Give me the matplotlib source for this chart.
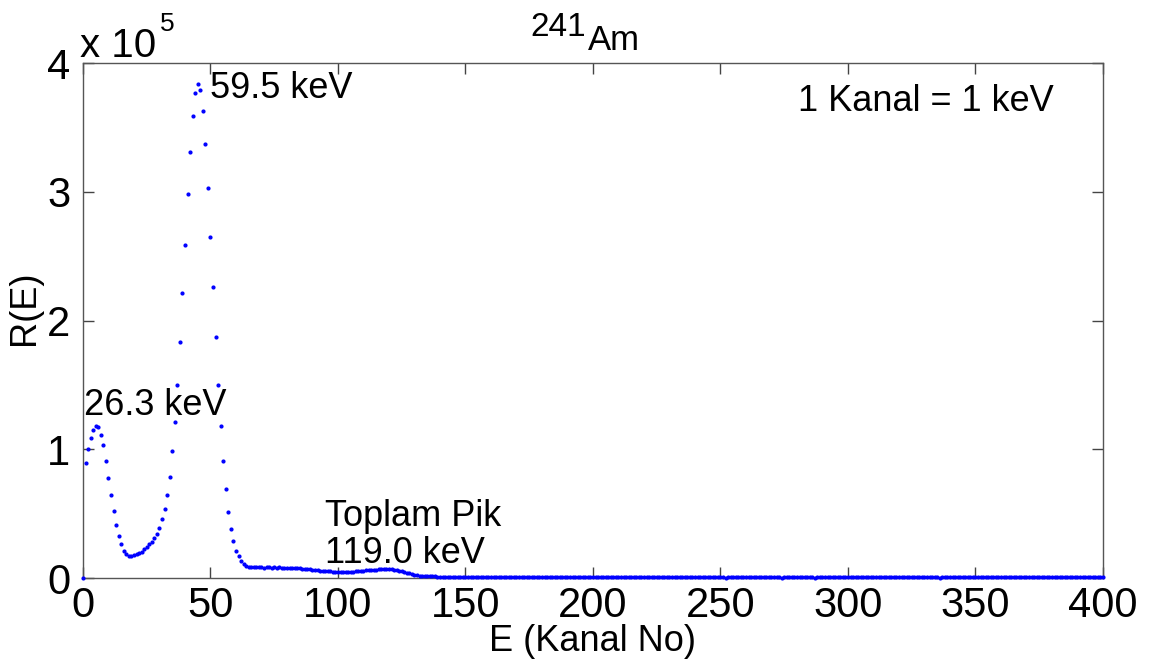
import numpy as np
import matplotlib
matplotlib.use('Agg')
import matplotlib.pyplot as plt

plt.rcParams['font.family'] = ['Liberation Sans', 'DejaVu Sans']

# ── Spektrum (kanal başına sayım) ────────────────────────────────────────────

# kanal 0-64: iki ana pik
counts_peaks = [
    0, 89000, 100000, 109000, 115000, 118000, 117000, 111000, 103000, 91000,
    78000, 64500, 52000, 41000, 32400, 26200, 20700, 18400, 17300, 17100,
    17600, 18300, 19100, 20400, 22200, 24300, 26400, 28200, 31000, 34200,
    38500, 45800, 53600, 64600, 78600, 98400, 121000, 150000, 183000, 221000,
    259000, 298000, 331000, 359000, 377000, 384000, 379000, 363000, 337000, 303000,
    265000, 226000, 187000, 150000, 118000, 91000, 69000, 51000, 38000, 29000,
    21200, 16900, 13400, 10600, 9000,
]

# kanal 65-150: plato + toplam pik
counts_sum = [
    8600, 8400, 8300, 8200, 8200, 8300, 8100, 8200, 8300, 8100,
    8200, 8100, 8200, 8000, 8100, 8100, 8000, 7900, 7800, 7700,
    7500, 7300, 7100, 6900, 6700, 6500, 6200, 6000, 5800, 5600,
    5400, 5300, 5100, 5000, 4900, 4800, 4800, 4700, 4800, 4800,
    4900, 5000, 5100, 5300, 5500, 5700, 5900, 6100, 6300, 6400,
    6600, 6700, 6800, 6900, 6900, 6800, 6700, 6500, 6200, 5800,
    5300, 4800, 4200, 3600, 3100, 2600, 2200, 1900, 1700, 1500,
    1400, 1300, 1250, 1200, 1150, 1100, 1100, 1050, 1050, 1000,
    1000, 1000, 1000, 950, 950, 950,
]

# kanal 151-400: arka plan
counts_tail = [
    1000, 950, 1000, 900, 950, 900, 950, 1050, 900, 950, 1000, 900, 950, 1000, 900, 950, 900, 850, 950, 900, 850, 900, 950, 850, 900,
    900, 850, 800, 900, 850, 800, 900, 850, 800, 850, 900, 800, 750, 850, 800, 900, 800, 850, 750, 800, 850, 800, 750, 850, 800,
    800, 750, 850, 800, 700, 800, 850, 750, 800, 900, 750, 800, 700, 850, 800, 750, 800, 1100, 800, 700, 750, 800, 850, 800, 700,
    800, 750, 800, 850, 750, 1000, 800, 750, 800, 700, 400, 800, 850, 750, 800, 700, 900, 800, 750, 600, 800, 850, 800, 750, 700,
    800, 300, 800, 750, 900, 800, 700, 750, 1100, 800, 750, 400, 800, 850, 750, 700, 800, 900, 750, 800, 700, 850, 800, 350, 750,
    800, 700, 850, 800, 750, 900, 800, 700, 850, 750, 800, 300, 750, 850, 800, 700, 800, 900, 750, 800, 850, 700, 800, 750, 800,
    750, 850, 800, 700, 800, 900, 750, 800, 750, 850, 400, 800, 750, 700, 850, 800, 750, 800, 900, 750, 800, 700, 850, 800, 750,
    800, 700, 850, 1000, 800, 750, 800, 700, 850, 800, 350, 750, 800, 850, 750, 700, 800, 900, 750, 800, 850, 750, 800, 700, 800,
    850, 750, 800, 400, 800, 750, 900, 800, 700, 750, 850, 800, 750, 700, 800, 1000, 800, 750, 700, 800, 850, 750, 800, 700, 800,
    750, 850, 800, 700, 400, 800, 750, 900, 800, 700, 850, 800, 750, 800, 1000, 750, 700, 800, 850, 750, 800, 700, 800, 850, 800,
]

counts = np.array(counts_peaks + counts_sum + counts_tail, dtype=float)
kanal = np.arange(len(counts))

xticks = [0, 50, 100, 150, 200, 250, 300, 350, 400]
yticks = [0, 1e5, 2e5, 3e5, 4e5]
ytick_labels = ['0', '1', '2', '3', '4']

# ── Grafik ───────────────────────────────────────────────────────────────────

fig = plt.figure(figsize=(11.54, 6.64), dpi=100)
ax = fig.add_axes([0.0719, 0.1295, 0.8839, 0.7756])

ax.plot(kanal, counts, '.', color='blue', ms=4, clip_on=False, zorder=3)

ax.set_xlim(0, 400)
ax.set_ylim(0, 4e5)
ax.set_xticks(xticks)
ax.set_yticks(yticks)
ax.set_yticklabels(ytick_labels)
ax.tick_params(direction='in', length=8, width=1, labelsize=30, top=True, right=True,
               color='#444444')
ax.tick_params(axis='x', pad=6)
ax.tick_params(axis='y', pad=9)
for s in ax.spines.values():
    s.set_color('#555555')
    s.set_linewidth(1)

ax.set_xlabel('E (Kanal No)', fontsize=26)
ax.xaxis.set_label_coords(0.5, -0.09)
ax.set_ylabel('R(E)', fontsize=26)
ax.yaxis.set_label_coords(-0.04, 0.524)

# başlık ve ölçek çarpanı (büyük üst simge ile)
fig.text(0.508, 0.946, '241', fontsize=24, ha='right', va='baseline')
fig.text(0.5095, 0.925, 'Am', fontsize=25, ha='left', va='baseline')
fig.text(0.069, 0.9146, 'x 10', fontsize=29, va='baseline')
fig.text(0.1386, 0.9538, '5', fontsize=19, va='baseline')

ax.text(49.8, 380000, '59.5 keV', fontsize=26, va='center')
ax.text(0.4, 134000, '26.3 keV', fontsize=26, va='center')
ax.text(94.9, 48000, 'Toplam Pik', fontsize=26, va='center')
ax.text(94.9, 19400, '119.0 keV', fontsize=26, va='center')
ax.text(280.4, 370000, '1 Kanal = 1 keV', fontsize=26, va='center')

plt.savefig('out.png', dpi=100)
plt.close()
